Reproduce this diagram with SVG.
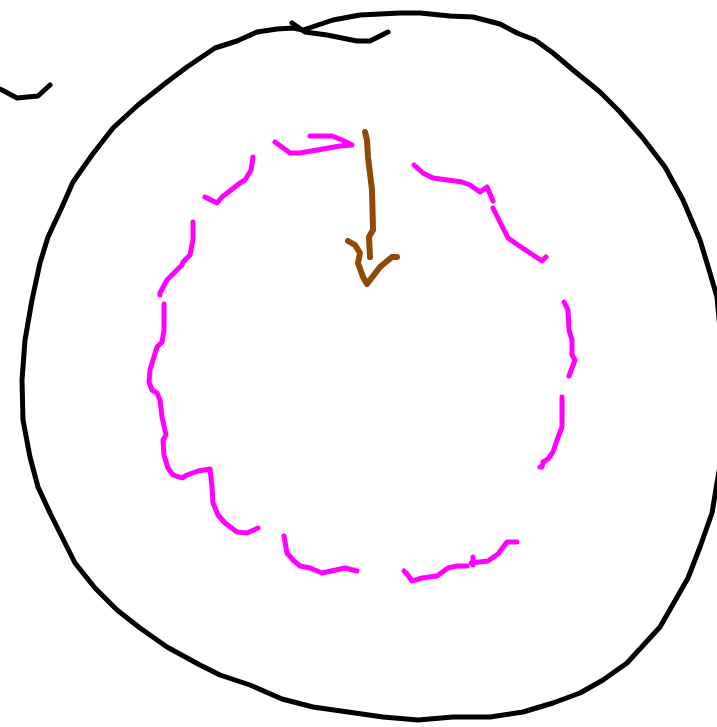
<svg xmlns="http://www.w3.org/2000/svg" width="717" height="727" viewBox="0 0 717 727">
<style>
.s{fill:none;stroke-linecap:round;stroke-linejoin:round;stroke-width:5}
.k{stroke:#000}
.m{stroke:#ff00ff}
.b{stroke:#8f4a06;stroke-width:6}
</style>
<rect width="717" height="727" fill="#fff"/>
<g id="outer">
<path class="s k" d="M303,30 L333,20 L360,15 L400,13 L420,13 L450,16 L473,17 L500,24 L517,33 L535,40 L553,53 L573,70 L600,92 L620,112 L642,137 L665,167 L683,200 L700,240 L710,273 L717,297 L721,340 M721,460 L717,483 L712,513 L700,547 L688,578 L660,627 L627,663 L603,680 L580,693 L553,703 L523,712 L490,717 L453,717 L418,720 L383,717 L313,707 L282,699 L250,685 L220,675 L200,665 L167,647 L140,628 L117,610 L95,588 L75,563 L50,513 L38,487 L30,457 L23,420 L22,380 L25,340 L32,300 L40,263 L48,237 L62,207 L73,182 L92,155 L113,128 L138,105 L167,82 L187,67 L215,48 L237,41 L257,32 L277,29 L293,28 L303,30"/>
<path class="s k" d="M292,23 L305,32 L327,35 L357,41 L370,41 L388,32"/>
<path class="s k" d="M0,89 L17,98 L38,96 L50,85"/>
</g>
<g id="inner">
<path class="s m" d="M275,142 L290,153 L300,153 L340,146 L352,145 L342,140 L332,136 L310,136"/>
<path class="s m" d="M253,157 L251,170 L245,180 L240,183 L222,197 L217,203 L205,197"/>
<path class="s m" d="M193,222 L193,240 L190,255 L183,262 L182,265 L167,280 L160,293 L160,295"/>
<path class="s m" d="M164,304 L164,330 L162,342 L157,347 L150,370 L149,382 L152,390 L157,393 L160,400 L162,417 L166,435 L163,440 L164,455 L168,468 L173,475 L182,478 L187,475 L198,471 L210,469 L212,487 L213,503 L218,515 L225,523 L237,532 L247,533 L258,528"/>
<path class="s m" d="M284,536 L287,553 L293,560 L300,566 L310,568 L322,573 L345,568 L357,571"/>
<path class="s m" d="M404,571 L407,574 L412,581 L422,578 L437,576 L448,568 L457,566 L467,566"/>
<path class="s m" d="M473,557 L473,565 M471,563 L488,561 L498,554 L507,542 L517,542"/>
<path class="s m" d="M562,397 L562,427 L557,440 L553,452 L548,459 L543,462 L542,467 L540,467"/>
<path class="s m" d="M564,302 L568,310 L569,330 L572,340 L572,355 L575,360 L569,376"/>
<path class="s m" d="M493,208 L500,222 L508,238 L518,245 L530,253 L542,261 L546,257"/>
<path class="s m" d="M414,165 L423,173 L433,178 L462,182 L470,185 L480,192 L487,187 L493,201"/>
</g>
<g id="arrow">
<path class="s b" d="M365,132 L367,140 L368,157 L372,190 L373,230 L369,237 L370,257"/>
<path class="s b" d="M348,241 L355,245 L360,253 L358,263 L363,277 L367,284 L380,267 L392,257 L397,257"/>
</g>
</svg>
